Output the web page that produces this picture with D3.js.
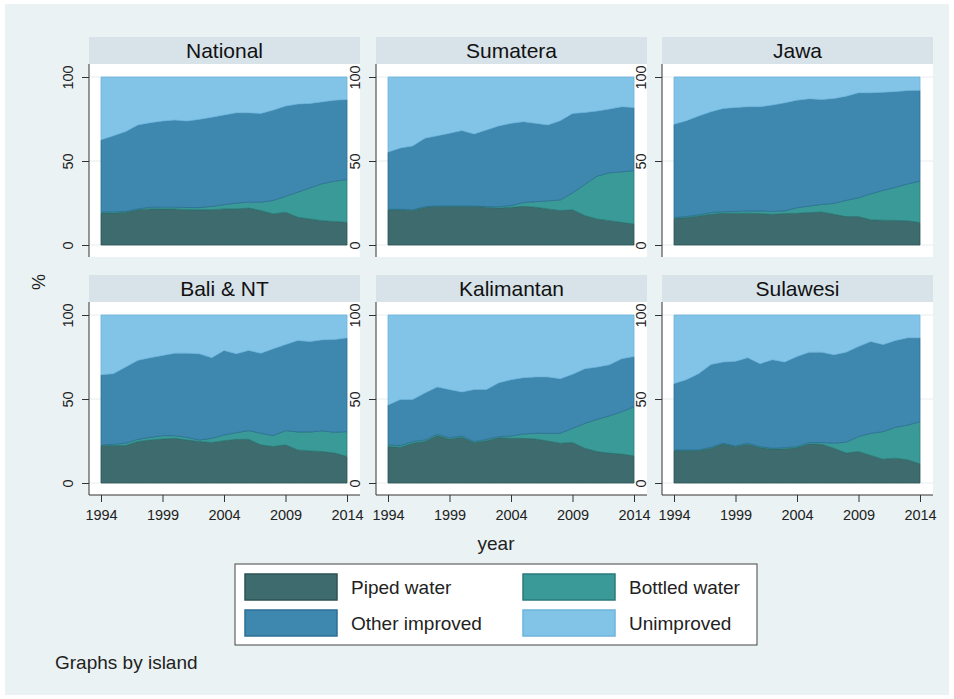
<!DOCTYPE html>
<html>
<head>
<meta charset="utf-8">
<script src="https://cdn.jsdelivr.net/npm/d3@7"></script>
<style>
  body { margin: 0; background: #fff; }
  svg { display: block; font-family: "Liberation Sans", Arial, sans-serif; }
</style>
</head>
<body>
<script>
// Data (shares in %, 1994-2014)
const years = [1994, 1995, 1996, 1997, 1998, 1999, 2000, 2001, 2002, 2003, 2004,
               2005, 2006, 2007, 2008, 2009, 2010, 2011, 2012, 2013, 2014];
const islands = ["National", "Sumatera", "Jawa", "Bali & NT", "Kalimantan", "Sulawesi"];
const categories = ["Piped water", "Bottled water", "Other improved", "Unimproved"];
const yTicks = [0, 50, 100];
const xTicks = [1994, 1999, 2004, 2009, 2014];

// one row per island, same order as islands
const pipedWater = [
  [19, 19, 19.5, 21, 21.5, 21.5, 21.5, 21, 21, 21, 21.5, 21.5, 22, 20.5, 18.5, 19.5, 16.5, 15.5, 14.5, 14, 13.5],
  [21, 21, 20.5, 22.5, 23, 23, 23, 23, 22.5, 22, 22.5, 23, 22.5, 21.5, 20.5, 21, 17.5, 15.5, 14.5, 13.5, 12.5],
  [15.9, 16.3, 17.3, 18.3, 18.9, 18.9, 18.9, 18.7, 18.3, 18.7, 18.9, 19.3, 19.7, 18.3, 16.9, 16.9, 15, 14.8, 14.6, 14.4, 13.4],
  [22.3, 22.3, 22.3, 24.7, 25.6, 26.2, 26.6, 25.6, 24.7, 24.1, 25.2, 26, 26, 22.7, 21.7, 22.7, 19.7, 19.1, 18.7, 17.8, 15.8],
  [21.7, 21.3, 23.7, 24.7, 28.2, 26.2, 27.2, 24.1, 25.2, 27, 26.6, 26.6, 26.2, 25, 23.7, 24.1, 20.7, 18.7, 17.8, 17.2, 16.2],
  [19.3, 19.3, 19.3, 20.7, 23.3, 21.7, 23.1, 21.1, 20.3, 20.3, 21.1, 23.3, 23.1, 20.7, 17.8, 18.7, 16.4, 14.2, 14.8, 13.8, 11.4]
];
const bottledWater = [
  [0.7, 0.8, 0.5, 0.5, 1, 1, 1, 1.3, 1.3, 2, 2.5, 3.5, 3.5, 5, 8, 9.5, 15, 18.5, 22, 24, 25.5],
  [0.3, 0.3, 0.5, 0.3, 0.3, 0.3, 0.3, 0.3, 0.4, 0.8, 1.1, 2.2, 3.3, 4.8, 6.3, 10, 18.5, 25.5, 28.5, 30, 31.8],
  [0.4, 0.7, 0.7, 1, 0.9, 1.1, 1.4, 1.6, 1.7, 1.6, 3.3, 3.9, 4.5, 6.5, 9.7, 11.2, 15.5, 17.7, 19.7, 22, 24.6],
  [0.4, 0.7, 1.4, 1.3, 1.6, 2, 1.6, 1.6, 0.9, 2.5, 3.4, 4, 5.2, 6.9, 6.5, 8.5, 10.7, 11.3, 12.3, 12.4, 14.8],
  [1, 1, 1, 0.9, 0.8, 0.8, 0.8, 0.6, 0.8, 0.6, 1.4, 2.6, 3.4, 4.6, 5.9, 8.4, 14.8, 19.2, 22.2, 25.2, 29.2],
  [0.4, 0.4, 0.4, 0.6, 0.4, 0.4, 0.6, 0.6, 0.4, 0.8, 0.6, 0.8, 1, 3, 6.5, 8.9, 13.2, 16.4, 18.3, 20.7, 25.1]
];
const otherImproved = [
  [42.9, 45.2, 47.5, 50, 50.3, 51.3, 51.9, 51.5, 52.5, 53, 53.4, 53.7, 53.2, 52.8, 53.8, 53.7, 52.4, 50.3, 48.7, 48.2, 47.6],
  [34, 36.4, 38, 40.8, 41.7, 43.2, 44.8, 42.8, 45.6, 48.1, 48.8, 48.2, 46.6, 45.2, 47.2, 47.3, 42.9, 38.7, 37.9, 38.8, 37.6],
  [55.6, 57, 58.8, 60, 61.5, 61.9, 62, 62, 63.3, 64.3, 64, 63.8, 62.4, 62.4, 62, 62.5, 60.1, 58.4, 57, 55.5, 54.1],
  [41.8, 42.1, 45.3, 47, 47.4, 47.7, 49.1, 50.1, 51.3, 48, 50.3, 46.9, 47.7, 47.7, 51.7, 51.2, 54.4, 53.8, 54.2, 55.2, 55.8],
  [23.7, 27.4, 25, 28, 28.2, 28.6, 26.2, 30.9, 29.6, 32, 33.5, 33.5, 33.5, 33.5, 32.5, 32.2, 32.5, 31.1, 30.4, 31.6, 29.9],
  [39.5, 41.8, 45.4, 49.3, 48.3, 50.3, 50.9, 49.3, 52.7, 50.9, 53.6, 53.8, 53.8, 52.6, 53.6, 53.7, 54.6, 51.8, 51.7, 51.9, 49.9]
];
const unimproved = [
  [37.4, 35, 32.5, 28.5, 27.2, 26.2, 25.6, 26.2, 25.2, 24, 22.6, 21.3, 21.3, 21.7, 19.7, 17.3, 16.1, 15.7, 14.8, 13.8, 13.4],
  [44.7, 42.3, 41, 36.4, 35, 33.5, 31.9, 33.9, 31.5, 29.1, 27.6, 26.6, 27.6, 28.5, 26, 21.7, 21.1, 20.3, 19.1, 17.7, 18.1],
  [28.1, 26, 23.2, 20.7, 18.7, 18.1, 17.7, 17.7, 16.7, 15.4, 13.8, 13, 13.4, 12.8, 11.4, 9.4, 9.4, 9.1, 8.7, 8.1, 7.9],
  [35.5, 34.9, 31, 27, 25.4, 24.1, 22.7, 22.7, 23.1, 25.4, 21.1, 23.1, 21.1, 22.7, 20.1, 17.6, 15.2, 15.8, 14.8, 14.6, 13.6],
  [53.6, 50.3, 50.3, 46.4, 42.8, 44.4, 45.8, 44.4, 44.4, 40.4, 38.5, 37.3, 36.9, 36.9, 37.9, 35.3, 32, 31, 29.6, 26, 24.7],
  [40.8, 38.5, 34.9, 29.4, 28, 27.6, 25.4, 29, 26.6, 28, 24.7, 22.1, 22.1, 23.7, 22.1, 18.7, 15.8, 17.6, 15.2, 13.6, 13.6]
];

// Layout constants
const width = 954;
const height = 699;
const colLeft = [89, 376, 662];   // left edge of each panel
const panelW = 271;
const rowTop = [37, 275];          // top of each header strip
const headerH = 27;
const padTop = 13;                 // white space above the data area
const dataH = 168;
const padBottom = 12;
const insetL = 12;
const insetR = 13;

// Font sizes
const titleSize = 21;
const tickSize = 14.5;
const labelSize = 19;

// Colours
const bg = "#eaf2f3";
const stripFill = "#d7e2e9";
const fills = ["#3e6c6e", "#3a9a98", "#3e88b0", "#82c4e8"];
const strokes = ["#2c5253", "#2a7b79", "#2c6e96", "#6cb4dc"];

const svg = d3.select("body").append("svg")
    .attr("width", width)
    .attr("height", height);

// Graph region
svg.append("rect")
    .attr("x", 5).attr("y", 4)
    .attr("width", width - 10).attr("height", height - 8)
    .attr("fill", bg);

const x = d3.scaleLinear().domain([1994, 2014]);
const stack = d3.stack().keys(categories).value((d, k) => d[k]);

islands.forEach((island, i) => {
  const col = i % 3;
  const row = Math.floor(i / 3);
  const left = colLeft[col];
  const top = rowTop[row];
  const plotTop = top + headerH;
  const dataTop = plotTop + padTop;
  const plotBottom = dataTop + dataH + padBottom;

  // table for this island
  const table = years.map((year, j) => ({
    year,
    "Piped water": pipedWater[i][j],
    "Bottled water": bottledWater[i][j],
    "Other improved": otherImproved[i][j],
    "Unimproved": unimproved[i][j]
  }));

  const xs = x.copy().range([left + insetL, left + panelW - insetR]);
  const y = d3.scaleLinear().domain([0, 100]).range([dataTop + dataH, dataTop]);

  const g = svg.append("g");

  // header strip with the island name
  g.append("rect")
      .attr("x", left).attr("y", top)
      .attr("width", panelW).attr("height", headerH)
      .attr("fill", stripFill);
  g.append("text")
      .attr("x", left + panelW / 2)
      .attr("y", top + headerH / 2)
      .attr("dy", "0.36em")
      .attr("text-anchor", "middle")
      .attr("font-size", titleSize)
      .attr("fill", "#111")
      .text(island);

  // plot region
  g.append("rect")
      .attr("x", left).attr("y", plotTop)
      .attr("width", panelW).attr("height", plotBottom - plotTop)
      .attr("fill", "#fff");

  // faint gridlines
  g.append("g")
    .selectAll("line")
    .data(yTicks)
    .join("line")
      .attr("x1", left).attr("x2", left + panelW)
      .attr("y1", d => y(d)).attr("y2", d => y(d))
      .attr("stroke", "#e6eef1")
      .attr("stroke-width", 1);

  // stacked areas
  const area = d3.area()
      .x(d => xs(d.data.year))
      .y0(d => y(d[0]))
      .y1(d => y(d[1]));
  g.append("g")
    .selectAll("path")
    .data(stack(table))
    .join("path")
      .attr("d", area)
      .attr("fill", (d, k) => fills[k])
      .attr("stroke", (d, k) => strokes[k])
      .attr("stroke-width", 0.8)
      .attr("stroke-linejoin", "round");

  // y axis on every panel
  const yAxis = g.append("g")
      .attr("transform", `translate(${left},0)`)
      .call(d3.axisLeft(y).tickValues(yTicks).tickSize(7).tickPadding(0).tickFormat(d3.format("d")));
  yAxis.select(".domain")
      .attr("d", `M0,${plotTop}V${plotBottom}`)
      .attr("stroke", "#333");
  yAxis.selectAll(".tick line").attr("stroke", "#333");
  yAxis.selectAll(".tick text")
      .attr("transform", "translate(-16,0) rotate(-90)")
      .attr("x", 0).attr("dy", "0")
      .attr("text-anchor", "middle")
      .attr("font-size", tickSize)
      .attr("font-family", "Liberation Sans, Arial, sans-serif")
      .attr("fill", "#222");

  // x axis only on the bottom row
  if (row === 1) {
    const xAxis = g.append("g")
        .attr("transform", `translate(0,${plotBottom})`)
        .call(d3.axisBottom(xs).tickValues(xTicks).tickSize(7).tickPadding(8).tickFormat(d3.format("d")));
    xAxis.select(".domain")
        .attr("d", `M${left},0H${left + panelW}`)
        .attr("stroke", "#333");
    xAxis.selectAll(".tick line").attr("stroke", "#333");
    xAxis.selectAll(".tick text")
        .attr("font-size", tickSize)
        .attr("font-family", "Liberation Sans, Arial, sans-serif")
        .attr("fill", "#222");
  }
});

// Axis titles
svg.append("text")
    .attr("transform", "translate(45,282) rotate(-90)")
    .attr("text-anchor", "middle")
    .attr("font-size", 18)
    .attr("fill", "#222")
    .text("%");
svg.append("text")
    .attr("x", 496).attr("y", 550)
    .attr("text-anchor", "middle")
    .attr("font-size", labelSize)
    .attr("fill", "#222")
    .text("year");

// Legend
const legend = svg.append("g");
legend.append("rect")
    .attr("x", 235).attr("y", 564)
    .attr("width", 522).attr("height", 81)
    .attr("fill", "#fff")
    .attr("stroke", "#444")
    .attr("stroke-width", 1);
const item = legend.selectAll("g.item")
    .data(categories)
    .join("g")
      .attr("class", "item")
      .attr("transform", (d, k) => `translate(${k % 2 ? 523 : 245},${k < 2 ? 574 : 610})`);
item.append("rect")
    .attr("width", 92).attr("height", 26)
    .attr("fill", (d, k) => fills[k])
    .attr("stroke", (d, k) => strokes[k])
    .attr("stroke-width", 1.5);
item.append("text")
    .attr("x", 106).attr("y", 13)
    .attr("dy", "0.36em")
    .attr("font-size", labelSize)
    .attr("fill", "#222")
    .text(d => d);

// Note
svg.append("text")
    .attr("x", 55).attr("y", 669)
    .attr("font-size", labelSize)
    .attr("fill", "#222")
    .text("Graphs by island");
</script>
</body>
</html>
